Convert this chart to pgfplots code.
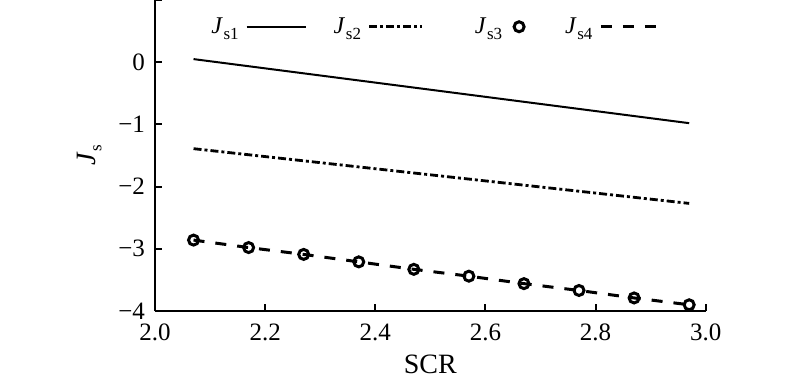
\documentclass[border=0pt]{standalone}
\usepackage{fontspec}
\setmainfont{Liberation Serif}
\usepackage{pgfplots}
\pgfplotsset{compat=1.18}
\newcommand\Js[1]{\textit{J}\kern0.3pt\raisebox{-3pt}{\fontsize{8.5}{9}\selectfont s#1}}
\pgfplotstableread{
x y
2.07 -2.86
2.17 -2.98
2.27 -3.09
2.37 -3.21
2.47 -3.33
2.57 -3.44
2.67 -3.56
2.77 -3.67
2.87 -3.79
2.97 -3.90
}\jsthree
\begin{document}
\begin{tikzpicture}
\path[use as bounding box] (-77.5pt,-35.5pt) rectangle (322.5pt,155.5pt);
\begin{axis}[
  at={(0pt,0pt)}, anchor=south west,
  scale only axis, width=275.35pt, height=155.5pt,
  xmin=2, xmax=3, ymin=-4, ymax=1,
  clip=false,
  axis lines=left,
  axis line style={-, line width=1pt, black},
  tick align=inside,
  major tick length=3.5pt,
  tick style={line width=1pt, black},
  xtick={2.0,2.2,2.4,2.6,2.8,3.0},
  xticklabels={2.0,2.2,2.4,2.6,2.8,3.0},
  ytick={-4,-3,-2,-1,0,1},
  yticklabels={−4,−3,−2,−1,0,{}},
  tick label style={font=\fontsize{12.5}{14}\selectfont},
  xticklabel style={yshift=-3pt},
  yticklabel style={xshift=-1.5pt},
  xlabel={SCR},
  ylabel={\Js{}},
  ylabel style={xshift=0pt, yshift=1.5pt},
  label style={font=\fontsize{14}{16}\selectfont},
  legend columns=4,
  legend plot pos=right,
  legend style={at={(rel axis cs:0.0908,0.914)}, anchor=west, draw=none, fill=none,
    font=\fontsize{12}{14}\selectfont,
    nodes={inner sep=0pt},
    /tikz/every odd column/.style={column sep=3.5pt},
    /tikz/every even column/.style={column sep=13.5pt}},
]
\addplot[black, line width=1pt,
  legend image code/.code={\draw (0pt,0pt) -- (29.5pt,0pt);}] coordinates {(2.07,0.05) (2.97,-0.98)};
\addlegendentry{\Js{1}}
\addplot[black, line width=1.4pt, dash pattern=on 4pt off 1.5pt on 1.5pt off 1.5pt,
  legend image code/.code={\draw (0pt,0pt) -- (26.5pt,0pt);}] coordinates {(2.07,-1.39) (2.97,-2.27)};
\addlegendentry{\Js{2}}
\addplot[black, only marks, mark=o, mark size=2.5pt, line width=1.5pt,
  legend image code/.code={\draw plot coordinates {(1pt,0pt)};}] table {\jsthree};
\addlegendentry{\hspace*{12pt}\Js{3}\hspace*{2.5pt}}
\addplot[black, line width=1.5pt, dash pattern=on 5.5pt off 5.5pt,
  legend image code/.code={\draw (1.5pt,0pt) -- (30pt,0pt);}] table {\jsthree};
\addlegendentry{\hspace*{7pt}\Js{4}}
\end{axis}
\end{tikzpicture}
\end{document}
